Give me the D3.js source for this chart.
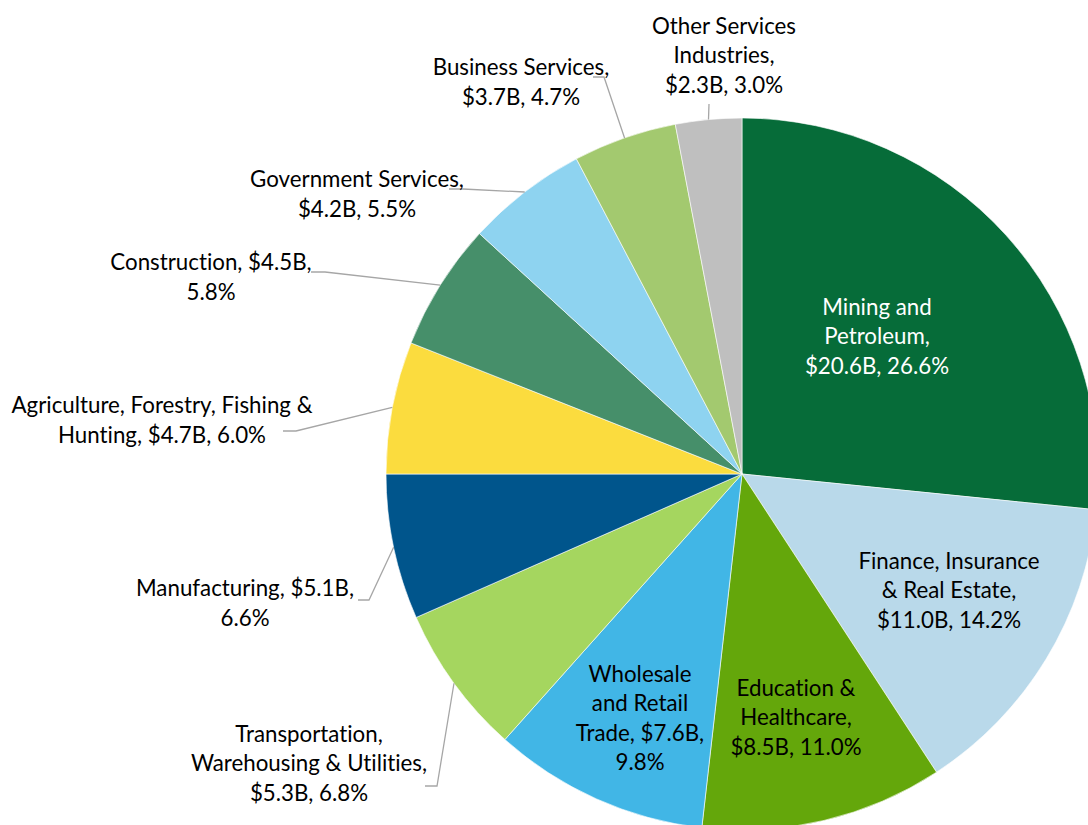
<!DOCTYPE html>
<html>
<head>
<meta charset="utf-8">
<script src="https://cdn.jsdelivr.net/npm/d3@7"></script>
<style>
	body { margin: 0; background: #fff; }
	svg { display: block; }
	text { font-family: Lato, "Open Sans", sans-serif; font-size: 22.3px; font-variant-ligatures: none; }
</style>
</head>
<body>
<div id="chart"></div>
<script>
// industry share of output, clockwise from 12 o'clock
var categories = [
	"Mining and Petroleum",
	"Finance, Insurance & Real Estate",
	"Education & Healthcare",
	"Wholesale and Retail Trade",
	"Transportation, Warehousing & Utilities",
	"Manufacturing",
	"Agriculture, Forestry, Fishing & Hunting",
	"Construction",
	"Government Services",
	"Business Services",
	"Other Services Industries"
];
var values = [20.6, 11.0, 8.5, 7.6, 5.3, 5.1, 4.7, 4.5, 4.2, 3.7, 2.3];   // $B
var shares = [26.6, 14.2, 11.0, 9.8, 6.8, 6.6, 6.0, 5.8, 5.5, 4.7, 3.0];  // %

var colors = ["#066c39", "#b9d9ea", "#64a70b", "#41b6e6", "#a5d65f", "#00558c",
	"#fbdc3e", "#468f6a", "#8ed3f0", "#a3c96f", "#bfbfbf"];

// label placement (relative to pie centre): block centre, words per line,
// inside / outside, and leader elbow points for outside labels
var labelLayout = [
	{pos: [135, -138], words: [2, 1, 2], inside: true, fill: "#fff"},
	{pos: [207, 116], words: [2, 3, 2], inside: true},
	{pos: [54, 243], words: [2, 1, 2], inside: true},
	{pos: [-102, 244], words: [1, 2, 2, 1], inside: true},
	{pos: [-433, 289], words: [1, 3, 2], elbow: [[-317, 312], [-305, 312]]},
	{pos: [-497, 129], words: [2, 1], elbow: [[-384, 126], [-373, 126]]},
	{pos: [-580, -54], words: [4, 3], elbow: [[-459, -43], [-446, -43]]},
	{pos: [-531, -197], words: [2, 1], elbow: [[-431, -202], [-417, -202]]},
	{pos: [-385, -280], words: [2, 2], elbow: [[-293, -285], [-279, -285]]},
	{pos: [-221, -392], words: [2, 2], elbow: [[-149, -397], [-138, -397]]},
	{pos: [-18, -419], words: [2, 1, 2], elbow: [[-33, -370]]}
];

var width = 1088, height = 825;
var cx = 742, cy = 474, radius = 356;
var lineHeight = 29.5;

var svg = d3.select("#chart").append("svg")
	.attr("width", width)
	.attr("height", height);

var g = svg.append("g")
	.attr("transform", "translate(" + cx + "," + cy + ")");

var pie = d3.pie()
	.sort(null)
	.value(function(d){ return d.share; });

var data = categories.map(function(c, i){
	return {name: c, value: values[i], share: shares[i], color: colors[i], layout: labelLayout[i]};
});

var arcs = pie(data);

var arc = d3.arc()
	.innerRadius(0)
	.outerRadius(radius);

g.append("g")
	.attr("class", "slices")
	.selectAll("path")
	.data(arcs)
	.enter()
		.append("path")
			.attr("d", arc)
			.attr("fill", function(d){ return d.data.color; })
			.attr("stroke", "#fff")
			.attr("stroke-width", 0.6);

// leader lines start on the rim at the middle of the slice
var rimArc = d3.arc().innerRadius(radius).outerRadius(radius);

g.append("g")
	.attr("class", "leaders")
	.selectAll("polyline")
	.data(arcs.filter(function(d){ return !d.data.layout.inside; }))
	.enter()
		.append("polyline")
			.attr("fill", "none")
			.attr("stroke", "#a6a6a6")
			.attr("stroke-width", 1.3)
			.attr("points", function(d){
				var pts = [rimArc.centroid(d)].concat(d.data.layout.elbow.slice().reverse());
				return pts.map(function(p){ return p.join(","); }).join(" ");
			});

function labelLines(d)
{
	var words = (d.data.name + ", $" + d.data.value.toFixed(1) + "B, " + d.data.share.toFixed(1) + "%").split(" ");
	var lines = [];
	var k = 0;
	d.data.layout.words.forEach(function(n){
		lines.push(words.slice(k, k + n).join(" "));
		k += n;
	});
	return lines;
}

var labels = g.append("g")
	.attr("class", "labels")
	.selectAll("text")
	.data(arcs)
	.enter()
		.append("text")
			.attr("text-anchor", "middle")
			.attr("fill", function(d){ return d.data.layout.fill || "#000"; });

labels.each(function(d){
	var lines = labelLines(d);
	var top = d.data.layout.pos[1] - (lines.length - 1) * lineHeight / 2;
	d3.select(this).selectAll("tspan")
		.data(lines)
		.enter()
			.append("tspan")
				.attr("x", d.data.layout.pos[0])
				.attr("y", function(l, i){ return top + i * lineHeight; })
				.attr("dy", "0.36em")
				.text(function(l){ return l; });
});
</script>
</body>
</html>
